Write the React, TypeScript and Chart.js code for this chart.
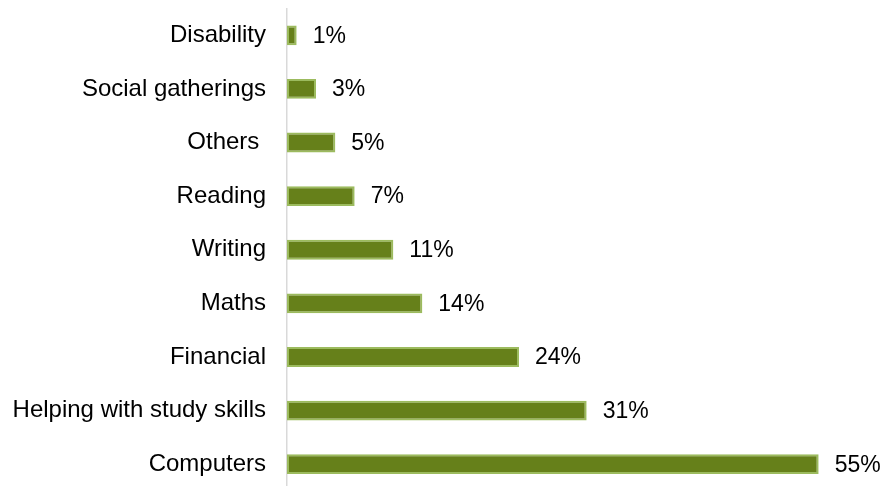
import React, { useEffect, useRef } from "react";
import { Chart, registerables } from "chart.js";

Chart.register(...registerables);

const categories = [
  "Disability",
  "Social gatherings",
  "Others ",
  "Reading",
  "Writing",
  "Maths",
  "Financial",
  "Helping with study skills",
  "Computers",
];
const values = [1, 3, 5, 7, 11, 14, 24, 31, 55];

const FONT = "'Liberation Sans', Arial, sans-serif";

const valueLabels = {
  id: "valueLabels",
  afterDatasetsDraw(chart: any) {
    const ctx = chart.ctx;
    const meta = chart.getDatasetMeta(0);
    ctx.save();
    ctx.font = `23px ${FONT}`;
    ctx.fillStyle = "#000";
    ctx.textAlign = "left";
    ctx.textBaseline = "middle";
    meta.data.forEach((bar: any, i: number) => {
      ctx.fillText(values[i] + "%", bar.x + 16, bar.y + 1);
    });
    ctx.restore();
  },
};

export default function App() {
  const ref = useRef<HTMLCanvasElement>(null);
  useEffect(() => {
    const chart = new Chart(ref.current!, {
      type: "bar",
      data: {
        labels: categories,
        datasets: [
          {
            data: values,
            backgroundColor: "#66801a",
            borderColor: "#9cbb5e",
            borderWidth: 2,
            borderSkipped: false,
            categoryPercentage: 1,
            barPercentage: 0.37,
          },
        ],
      },
      options: {
        indexAxis: "y",
        animation: false,
        responsive: false,
        maintainAspectRatio: false,
        layout: { padding: { top: 8.5, right: 18, bottom: 0, left: 0 } },
        plugins: { legend: { display: false }, tooltip: { enabled: false } },
        scales: {
          x: { display: false, min: 0, max: 60 },
          y: {
            grid: { display: false, drawTicks: false },
            border: { display: true, color: "#d9d9d9", width: 1.5 },
            ticks: {
              padding: 21,
              color: "#000",
              font: { family: FONT, size: 24 },
            },
            afterFit(scale: any) {
              scale.width = 287;
              scale.paddingTop = 0;
              scale.paddingBottom = 0;
            },
          },
        },
      },
      plugins: [valueLabels],
    });
    return () => chart.destroy();
  }, []);
  return (
    <div
      style={{
        position: "fixed",
        left: 0,
        top: 0,
        width: 885,
        height: 486,
        overflow: "hidden",
        background: "#fff",
      }}
    >
      <canvas ref={ref} width={885} height={491} style={{ display: "block" }} />
    </div>
  );
}
